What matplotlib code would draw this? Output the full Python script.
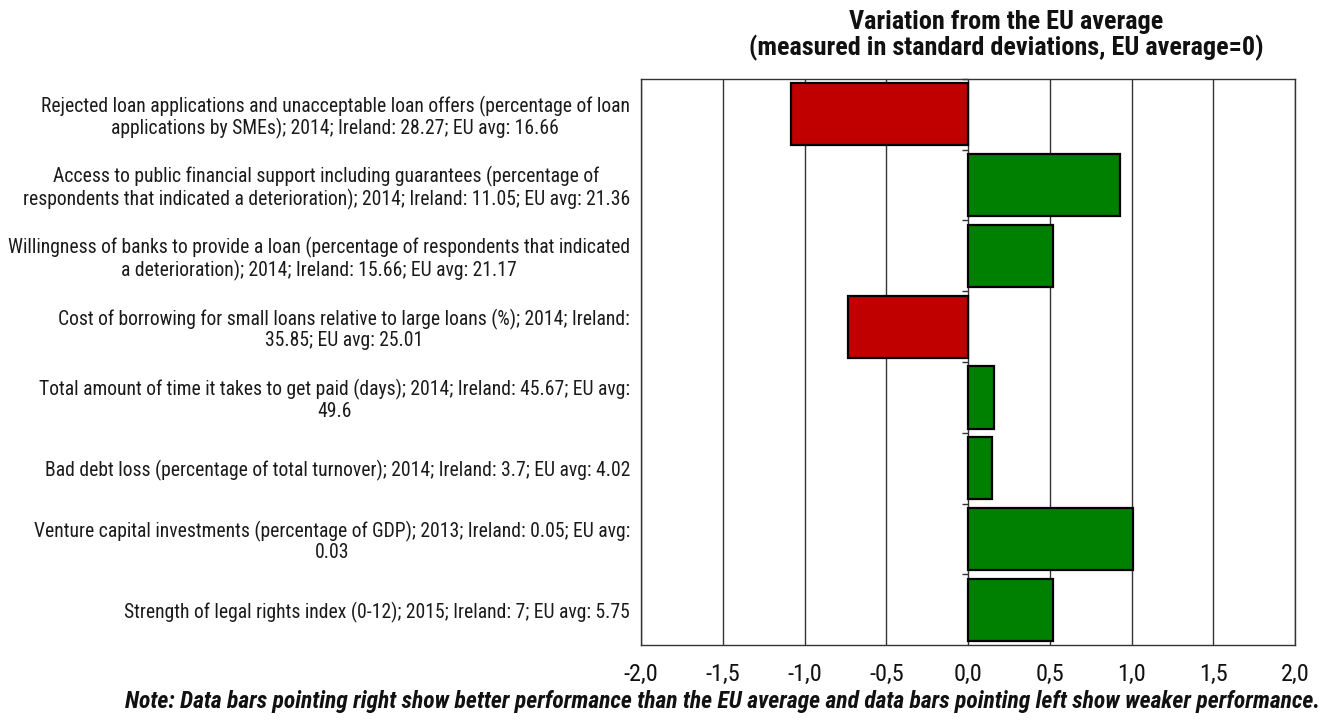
import matplotlib
matplotlib.use("Agg")
import matplotlib.pyplot as plt
from matplotlib.ticker import FuncFormatter, MultipleLocator
from matplotlib import font_manager
from matplotlib.font_manager import FontProperties

indicators = [
    "Rejected loan applications and unacceptable loan offers (percentage of loan\napplications by SMEs); 2014; Ireland: 28.27; EU avg: 16.66",
    "Access to public financial support including guarantees (percentage of\nrespondents that indicated a deterioration); 2014; Ireland: 11.05; EU avg: 21.36",
    "Willingness of banks to provide a loan (percentage of respondents that indicated\na deterioration); 2014; Ireland: 15.66; EU avg: 21.17",
    "Cost of borrowing for small loans relative to large loans (%); 2014; Ireland:\n35.85; EU avg: 25.01",
    "Total amount of time it takes to get paid (days); 2014; Ireland: 45.67; EU avg:\n49.6",
    "Bad debt loss (percentage of total turnover); 2014; Ireland: 3.7; EU avg: 4.02",
    "Venture capital investments (percentage of GDP); 2013; Ireland: 0.05; EU avg:\n0.03",
    "Strength of legal rights index (0-12); 2015; Ireland: 7; EU avg: 5.75",
]
std_dev_variation = [-1.085, 0.932, 0.522, -0.732, 0.161, 0.148, 1.008, 0.522]

title = "Variation from the EU average\n(measured in standard deviations, EU average=0)"
note = ("Note: Data bars pointing right show better performance than the EU average "
        "and data bars pointing left show weaker performance.")


def narrow_font(bold=False, italic=False):
    """Pick the narrowest sans-serif face installed for the requested variant."""
    families = [
        ("Liberation Sans Narrow", None),
        ("Roboto Condensed", None),
        ("DejaVu Sans", {"condensed", "semi-condensed"}),
        ("Open Sans", {"condensed", "semi-condensed"}),
        ("Liberation Sans", None),
    ]
    for name, stretches in families:
        for f in font_manager.fontManager.ttflist:
            if f.name != name:
                continue
            if stretches is not None and str(f.stretch) not in stretches:
                continue
            is_bold = int(f.weight) >= 600 if str(f.weight).isdigit() else "bold" in str(f.weight)
            is_italic = f.style in ("italic", "oblique")
            if is_bold == bold and is_italic == italic:
                return FontProperties(fname=f.fname)
    return FontProperties(family="DejaVu Sans",
                          weight="bold" if bold else "normal",
                          style="italic" if italic else "normal")


fp_regular = narrow_font()
fp_bold = narrow_font(bold=True)
fp_bold_italic = narrow_font(bold=True, italic=True)

fig = plt.figure(figsize=(13.25, 7.22), dpi=100)
renderer = fig.canvas.get_renderer()


def fitted_size(text, fp, width_px, start=12.0):
    """Font size at which a single line of text spans width_px pixels."""
    probe = fig.text(0, 0, text, fontproperties=fp, fontsize=start)
    w = probe.get_window_extent(renderer).width
    probe.remove()
    return start * width_px / w


label_size = fitted_size(indicators[0].split("\n")[0], fp_regular, 590)
title_size = fitted_size(title.split("\n")[1], fp_bold, 517)
note_size = fitted_size(note, fp_bold_italic, 1200)

ax = fig.add_axes([0.4838, 0.1066, 0.4936, 0.784])

n = len(indicators)
ypos = list(range(n))
colors = ["#C00000" if v < 0 else "#008000" for v in std_dev_variation]
ax.barh(ypos, std_dev_variation, height=0.88, color=colors,
        edgecolor="black", linewidth=1.6, zorder=3)

ax.set_xlim(-2, 2)
ax.set_ylim(n - 0.5, -0.5)
ax.xaxis.set_major_locator(MultipleLocator(0.5))
ax.xaxis.set_major_formatter(FuncFormatter(lambda v, p: f"{v:.1f}".replace(".", ",")))
ax.grid(axis="x", color="#333333", linewidth=1.0, zorder=0)
ax.tick_params(axis="x", length=0, pad=13, colors="#111111")
for lbl in ax.get_xticklabels():
    lbl.set_fontproperties(fp_regular)
    lbl.set_fontsize(17.5)

ax.set_yticks(ypos)
ax.set_yticklabels(indicators, multialignment="center")
ax.tick_params(axis="y", length=0, pad=8, colors="#1a1a1a")
for lbl in ax.get_yticklabels():
    lbl.set_fontproperties(fp_regular)
    lbl.set_fontsize(label_size)
    lbl.set_linespacing(1.1)

for s in ax.spines.values():
    s.set_color("#333333")
    s.set_linewidth(1.0)

# category separators drawn as short ticks on the zero line
zero_axis = ax.secondary_yaxis(0.5)
zero_axis.set_yticks([i + 0.5 for i in range(n - 1)] + [-0.5])
zero_axis.set_yticklabels([])
zero_axis.tick_params(length=4, width=1, color="#333333", direction="in")
zero_axis.spines["right"].set_visible(False)
zero_axis.spines["left"].set_visible(False)

fig.text(0.7596, 0.915, title, ha="center", va="bottom", fontproperties=fp_bold,
         fontsize=title_size, linespacing=1.05, color="#111111")
fig.text(0.996, 0.028, note, ha="right", va="center", fontproperties=fp_bold_italic,
         fontsize=note_size, color="#111111")

fig.savefig("out.png", dpi=100)
